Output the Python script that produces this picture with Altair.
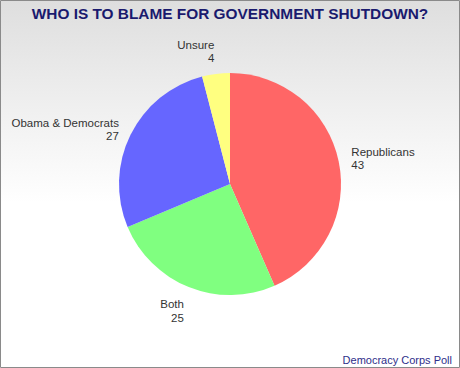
import altair as alt
import pandas as pd

categories = ["Republicans", "Both", "Obama & Democrats", "Unsure"]
values = [43, 25, 27, 4]
colors = ["#ff6666", "#80ff80", "#6666ff", "#ffff80"]
title_text = "WHO IS TO BLAME FOR GOVERNMENT SHUTDOWN?"
source_text = "Democracy Corps Poll"

W, H = 460, 368
CX, CY, R = 230, 184, 111
LABEL_R = 124

df = pd.DataFrame({"category": categories, "value": values, "order": list(range(len(categories)))})
one = pd.DataFrame({"k": [0]})

bg = alt.Chart(one).mark_rect(
    fill=alt.Gradient(
        gradient="linear", x1=0, y1=0, x2=0, y2=1,
        stops=[alt.GradientStop(color="#dedede", offset=0),
               alt.GradientStop(color="#ffffff", offset=0.55),
               alt.GradientStop(color="#ffffff", offset=1)],
    ),
    stroke="#8a8a8a", strokeWidth=1,
).encode(x=alt.value(0.5), x2=alt.value(W - 0.5), y=alt.value(0.5), y2=alt.value(H - 0.5))

pie = alt.Chart(df).mark_arc(outerRadius=R, stroke=None).encode(
    theta=alt.Theta("value:Q", stack=True),
    order=alt.Order("order:Q"),
    color=alt.Color("category:N", scale=alt.Scale(domain=categories, range=colors), legend=None),
    x=alt.value(CX), y=alt.value(CY),
)

base_lbl = alt.Chart(df).transform_joinaggregate(
    total="sum(value)"
).transform_window(
    cum="sum(value)", sort=[alt.SortField("order")], frame=[None, 0]
).transform_calculate(
    mid="(datum.cum - datum.value / 2) / datum.total",
    s="sin(2 * PI * datum.mid)",
    c="cos(2 * PI * datum.mid)",
    label="datum.category + '\\n' + datum.value",
)

def label_layer(expr, align, baseline, dy):
    return base_lbl.transform_filter(expr).mark_text(
        radius=LABEL_R, align=align, baseline=baseline, lineBreak="\n", dy=dy,
        font="Liberation Sans", fontSize=11.5, lineHeight=13.5, color="#333333",
    ).encode(
        theta=alt.Theta("mid:Q", stack=None, scale=alt.Scale(domain=[0, 1])),
        text="label:N",
        x=alt.value(CX), y=alt.value(CY),
    )

labels = [
    label_layer("abs(datum.s) >= 0.7 && datum.s >= 0", "left", "middle", -6),
    label_layer("abs(datum.s) >= 0.7 && datum.s < 0", "right", "middle", -5),
    label_layer("abs(datum.s) < 0.7 && datum.c >= 0 && datum.s >= 0", "left", "bottom", -10),
    label_layer("abs(datum.s) < 0.7 && datum.c >= 0 && datum.s < 0", "right", "bottom", -10),
    label_layer("abs(datum.s) < 0.7 && datum.c < 0 && datum.s >= 0", "left", "top", 0),
    label_layer("abs(datum.s) < 0.7 && datum.c < 0 && datum.s < 0", "right", "top", 0),
]

title = alt.Chart(one).mark_text(
    text=title_text, font="Liberation Sans", fontSize=15.4, fontWeight="bold",
    color="#1a1a6e", align="center", baseline="alphabetic",
).encode(x=alt.value(W / 2), y=alt.value(19))

source = alt.Chart(one).mark_text(
    text=source_text, font="Liberation Sans", fontSize=11,
    color="#2e2e8a", align="right", baseline="alphabetic",
).encode(x=alt.value(452), y=alt.value(364))

chart = alt.layer(bg, pie, *labels, title, source).resolve_scale(
    theta="independent"
).properties(
    width=W, height=H, padding=0, autosize=alt.AutoSizeParams(type="none")
).configure_view(stroke=None)

chart.save("out.html", embed_options={"renderer": "svg", "actions": False})
